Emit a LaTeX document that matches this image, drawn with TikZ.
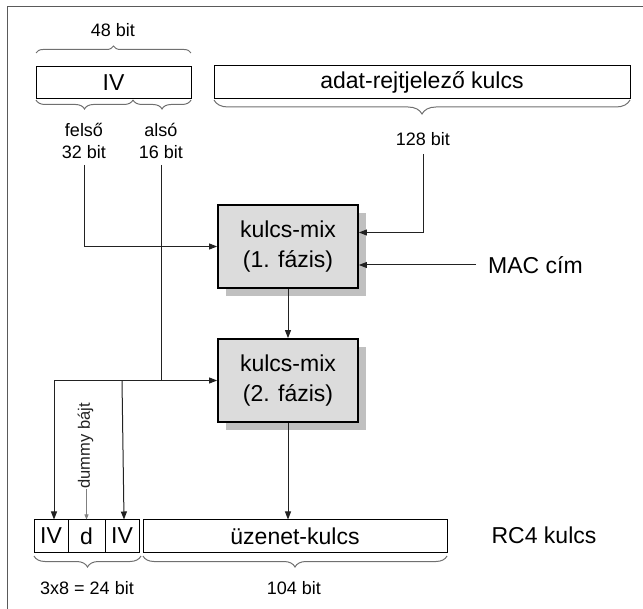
\documentclass[tikz,border=0pt]{standalone}
\usepackage{fontspec}
\setmainfont{Liberation Sans}
\usetikzlibrary{arrows.meta,decorations.pathreplacing,shadows,calc}
\definecolor{boxfill}{HTML}{DCDCDC}
\definecolor{shadowc}{HTML}{C0C0C0}
\definecolor{bracec}{HTML}{707070}
\definecolor{framec}{HTML}{5A5A5A}
\definecolor{linec}{HTML}{222222}
\begin{document}
\begin{tikzpicture}[x=1pt,y=-1pt,
  big/.style={font=\fontsize{23}{30}\selectfont},
  small/.style={font=\fontsize{18}{22}\selectfont},
  field/.style={draw=black,line width=1pt,fill=white,inner sep=0pt,minimum height=32pt,big},
  mixbox/.style={draw=black,line width=1.8pt,fill=boxfill,minimum width=140pt,minimum height=83pt,inner sep=0pt,align=center,big,
     drop shadow={shadow xshift=8pt,shadow yshift=-8pt,fill=shadowc,opacity=1}},
  lbl/.style={inner sep=0pt,align=center},
  conn/.style={draw=linec,line width=1pt,-{Triangle[length=8pt,width=6pt]}},
  brc/.style={draw=bracec,line width=1pt,decorate,decoration={brace,amplitude=#1}},
  brc/.default=8pt]
\useasboundingbox (0,0) rectangle (643,609);
% frame
\draw[framec,line width=1pt] (7,7) rectangle (660,625);

% top fields
\node[lbl,small] (b48) at (113,30) {48 bit};
\node[field,minimum width=155pt] (iv) at (113.5,83) {IV};
\node[field,minimum width=416pt,minimum height=33pt] (adat) at (422,82.5) {adat-rejtjelező kulcs};
\draw[brc=7pt] (36,53) -- (191,53);
\draw[brc=9pt] (133,100) -- (36,100);
\draw[brc=9pt] (191,100) -- (133,100);
\draw[brc=14pt] (630,100) -- (214,100);
\node[lbl,small] (felso) at (84,141) {felső\\32 bit};
\node[lbl,small] (also) at (161,141) {alsó\\16 bit};
\node[lbl,small] (b128) at (423,139) {128 bit};

% mix boxes
\node[mixbox] (k1) at (288,246.5) {kulcs-mix\\(1. fázis)};
\node[mixbox] (k2) at (288,380.5) {kulcs-mix\\(2. fázis)};
\node[lbl,big,anchor=west] (mac) at (488,265) {MAC cím};

% bottom fields
\node[field,minimum width=34pt] (iv1) at (51,536) {IV};
\node[field,minimum width=37pt] (dd) at (86.5,536) {d};
\node[field,minimum width=34pt] (iv2) at (122,536) {IV};
\node[field,minimum width=304pt] (uz) at (295,536) {üzenet-kulcs};
\node[lbl,big] (rc4) at (544,535) {RC4 kulcs};
\draw[brc=11pt] (141,556) -- (34,556);
\draw[brc=11pt] (447,556) -- (143,556);
\node[lbl,small] (b24) at (87,588) {3x8 = 24 bit};
\node[lbl,small] (b104) at (294,588) {104 bit};
\node[lbl,rotate=90,font=\fontsize{16.5}{19}\selectfont,text=linec] (dummy) at (85.5,446) {dummy bájt};

% connectors
\draw[conn] ([yshift=-6pt]felso.south) |- (k1.west);
\draw[conn] ([yshift=-6pt]also.south) |- (k2.west);
\coordinate (j) at (also.south |- k2.west);
\draw[conn] (j) -| ([xshift=3pt]iv1.north);
\draw[conn] (j -| iv2.north) -- ([xshift=2pt]iv2.north);
\draw[conn] ([yshift=-8pt]b128.south) |- ([yshift=14pt]k1.east);
\draw[conn] ([xshift=-12pt]mac.west) -- (mac.west -| k1.east);
\draw[conn] (k1.south) -- (k2.north);
\draw[conn] (k2.south) -- (k2.south |- uz.north);
\draw[draw=gray,line width=0.6pt,-{Triangle[length=5pt,width=4pt]}] ([xshift=1pt]dummy.west) -- (dd.north);
\end{tikzpicture}
\end{document}
